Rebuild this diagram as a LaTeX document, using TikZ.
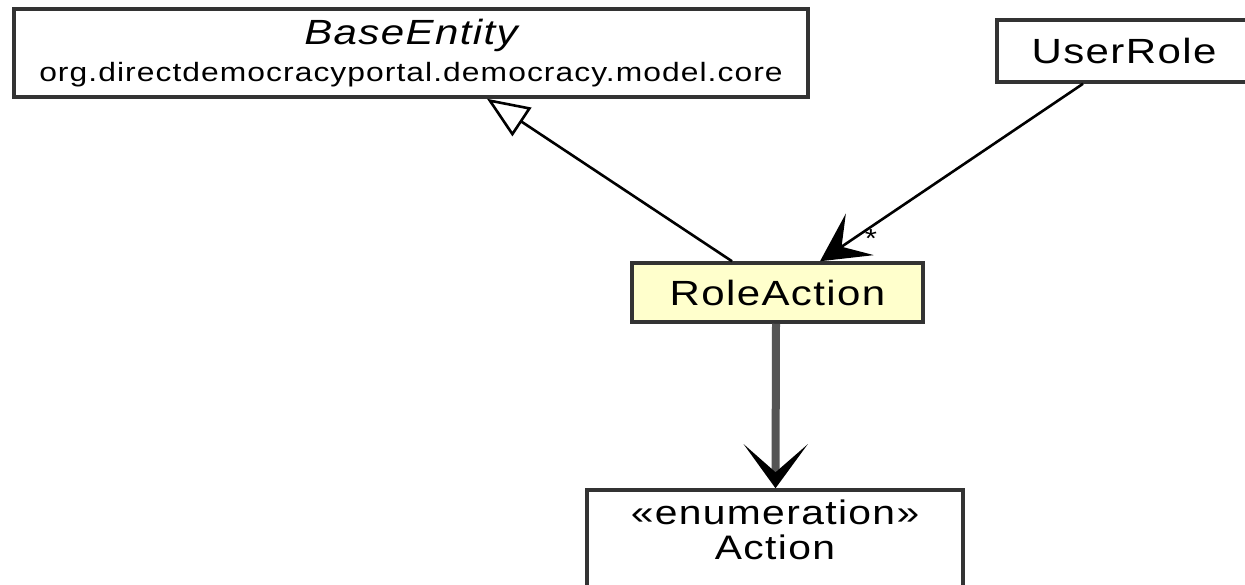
\documentclass[tikz,border=0pt]{standalone}
\usepackage{fontspec}
\usetikzlibrary{arrows.meta,calc}
\newfontfamily\umlfont[FakeStretch=1.2,LetterSpace=4]{Liberation Sans}
\definecolor{classfill}{HTML}{FFFFCC}
\definecolor{edge}{HTML}{333333}
\definecolor{heavy}{HTML}{555555}
\tikzset{
  classbox/.style={draw=edge, line width=3.5pt, fill=white, align=center,
    inner sep=0pt, font=\umlfont\fontsize{35}{40}\selectfont},
  classtext/.style={align=center, inner sep=0pt, font=\umlfont\fontsize{34}{38}\selectfont},
  generalization/.style={draw=black, line width=2.6pt,
    -{Triangle[open, length=42pt, width=34pt, line width=2.6pt]}},
  association/.style={draw=black, line width=2.6pt,
    -{Stealth[length=48pt, width=50pt, inset=22pt]}},
  dependency/.style={draw=heavy, line width=8pt,
    -{Stealth[length=44pt, width=64pt, inset=28pt, color=black]}}
}
\begin{document}
\begin{tikzpicture}[x=1pt, y=-1pt]
  \useasboundingbox (0,0) rectangle (1245,584);
  \fill[white] (0,0) rectangle (1245,584);

  % classes
  \node[classbox, minimum width=794pt, minimum height=88pt] (be) at (411,53)
    {\itshape BaseEntity\\[-3pt] {\upshape\fontsize{26.5}{30}\selectfont org.directdemocracyportal.democracy.model.core}};
  \node[classbox, minimum width=254pt, minimum height=62pt] (ur) at (1124,51) {UserRole};
  \node[classbox, fill=classfill, minimum width=291pt, minimum height=59pt] (ra) at (777.5,292.5) {RoleAction};
  \node[classbox, minimum width=376pt, minimum height=110pt] (ac) at (775,545) {};
  \node[classtext, anchor=north] (actext) at ([yshift=-11pt]ac.north)
    {«enumeration»\\[-3pt] Action};

  % connectors
  \draw[generalization] ([xshift=-45.5pt]ra.north) -- ([xshift=76pt]be.south);
  \draw[association] ([xshift=-41pt]ur.south) -- ([xshift=42.5pt]ra.north)
    node[pos=0.87, right=6pt, font=\umlfont\fontsize{26}{30}\selectfont] (mult) {*};
  \draw[dependency] ([xshift=-1.5pt]ra.south) -- ([xshift=0.5pt]ac.north);
\end{tikzpicture}
\end{document}
